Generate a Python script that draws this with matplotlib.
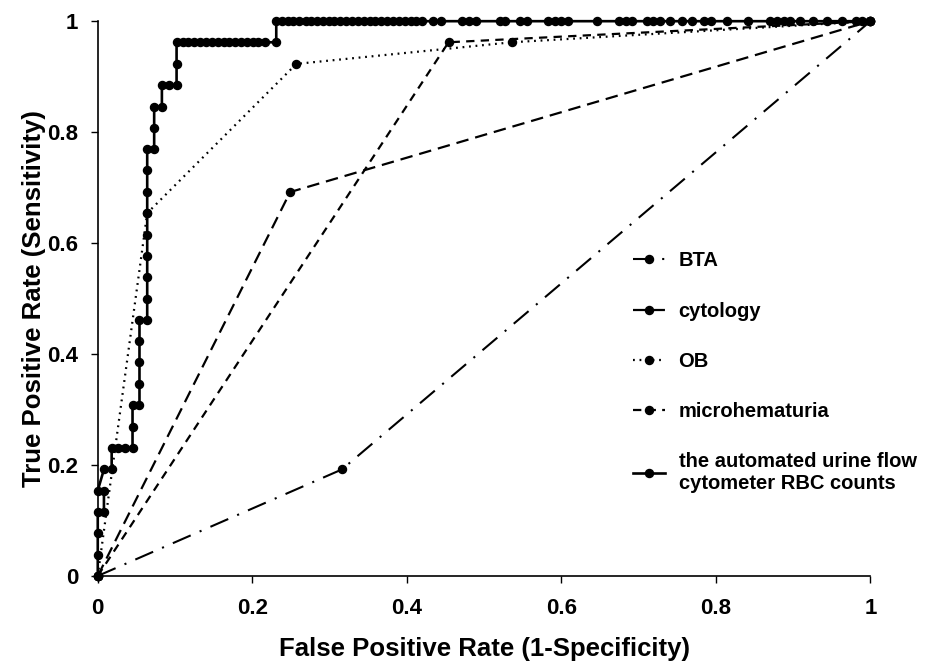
import numpy as np
import matplotlib
matplotlib.use('Agg')
import matplotlib.pyplot as plt

plt.rcParams['font.family'] = ['Liberation Sans', 'DejaVu Sans']
plt.rcParams['font.weight'] = 'bold'
plt.rcParams['lines.scale_dashes'] = False

# ── Data ─────────────────────────────────────────────────────────────────────
bta_fpr = [0.0, 0.316, 1.0]
bta_tpr = [0.0, 0.192, 1.0]

cyto_fpr = [0.0, 0.249, 1.0]
cyto_tpr = [0.0, 0.692, 1.0]

ob_fpr = [0.0, 0.064, 0.257, 0.536, 1.0]
ob_tpr = [0.0, 0.654, 0.923, 0.962, 1.0]

micro_fpr = [0.0, 0.454, 1.0]
micro_tpr = [0.0, 0.962, 1.0]

# RBC counts: lower staircase
rbc_step_fpr = [0.0, 0.0, 0.0, 0.0, 0.008, 0.008, 0.0, 0.008, 0.018, 0.018,
                0.026, 0.035, 0.045, 0.045, 0.045, 0.054, 0.054, 0.054, 0.054,
                0.054, 0.064, 0.064, 0.064, 0.064, 0.064, 0.064, 0.064, 0.064,
                0.064, 0.073, 0.073, 0.073, 0.083, 0.083, 0.092, 0.102, 0.102,
                0.102]
rbc_step_tpr = [0.0, 0.038, 0.077, 0.115, 0.115, 0.154, 0.154, 0.192, 0.192,
                0.231, 0.231, 0.231, 0.231, 0.269, 0.308, 0.308, 0.346, 0.385,
                0.423, 0.462, 0.462, 0.5, 0.538, 0.577, 0.615, 0.654, 0.692,
                0.731, 0.769, 0.769, 0.808, 0.846, 0.846, 0.885, 0.885, 0.885,
                0.923, 0.962]
# plateau at sensitivity 0.962
rbc_mid_fpr = [0.110, 0.117, 0.125, 0.132, 0.140, 0.148, 0.155, 0.163, 0.170,
               0.178, 0.186, 0.193, 0.201, 0.208, 0.216, 0.231]
rbc_mid_tpr = 0.962
# top row at sensitivity 1
rbc_top_fpr = [0.231, 0.238, 0.246, 0.253, 0.261, 0.269, 0.276, 0.284, 0.291,
               0.299, 0.306, 0.314, 0.321, 0.329, 0.337, 0.344, 0.352, 0.359,
               0.367, 0.374, 0.382, 0.390, 0.397, 0.405, 0.412, 0.420, 0.434,
               0.444, 0.471, 0.480, 0.489, 0.520, 0.527, 0.547, 0.555, 0.583,
               0.592, 0.600, 0.609, 0.646, 0.674, 0.683, 0.691, 0.711, 0.719,
               0.728, 0.741, 0.756, 0.769, 0.784, 0.793, 0.814, 0.841, 0.870,
               0.879, 0.888, 0.896, 0.909, 0.926, 0.944, 0.963, 0.981, 0.989,
               1.0]
rbc_top_tpr = 1.0

rbc_fpr = rbc_step_fpr + rbc_mid_fpr + rbc_top_fpr
rbc_tpr = (rbc_step_tpr + [rbc_mid_tpr] * len(rbc_mid_fpr)
           + [rbc_top_tpr] * len(rbc_top_fpr))

ticks = [0, 0.2, 0.4, 0.6, 0.8, 1]
tick_labels = ['0', '0.2', '0.4', '0.6', '0.8', '1']

# ── Figure ───────────────────────────────────────────────────────────────────
fig = plt.figure(figsize=(9.31, 6.62), dpi=100)
ax = fig.add_axes([0.105, 0.13, 0.83, 0.838])

mk = dict(marker='o', markersize=5.8, color='black', clip_on=False)
ax.plot(bta_fpr, bta_tpr, linestyle=(0, (14, 7, 1.5, 7)), lw=1.5,
        label='BTA', **mk)
ax.plot(cyto_fpr, cyto_tpr, linestyle=(0, (9, 5)), lw=1.6,
        label='cytology', **mk)
ax.plot(ob_fpr, ob_tpr, linestyle=(0, (1.3, 3.4)), lw=1.6,
        label='OB', **mk)
ax.plot(micro_fpr, micro_tpr, linestyle=(0, (6, 4.5)), lw=1.6,
        label='microhematuria', **mk)
ax.plot(rbc_fpr, rbc_tpr, linestyle='-', lw=1.9,
        label='the automated urine flow\ncytometer RBC counts', **mk)

ax.set_xlim(0, 1)
ax.set_ylim(0, 1)
ax.set_xticks(ticks)
ax.set_xticklabels(tick_labels)
ax.set_yticks(ticks)
ax.set_yticklabels(tick_labels)
ax.tick_params(labelsize=16, length=5, width=1)
ax.tick_params(axis='x', pad=11)
ax.tick_params(axis='y', pad=9)
for s in ['top', 'right']:
    ax.spines[s].set_visible(False)
for s in ['left', 'bottom']:
    ax.spines[s].set_linewidth(1.2)

ax.set_xlabel('False Positive Rate (1-Specificity)', fontsize=18.5,
              fontweight='bold', labelpad=13)
ax.set_ylabel('True Positive Rate (Sensitivity)', fontsize=18.5,
              fontweight='bold', labelpad=1)

ax.legend(loc='upper left', bbox_to_anchor=(0.693, 0.585), frameon=False,
          fontsize=14.5, handlelength=1.6, handletextpad=0.65,
          labelspacing=1.55, borderpad=0, borderaxespad=0)

plt.savefig('out.png', dpi=100)
